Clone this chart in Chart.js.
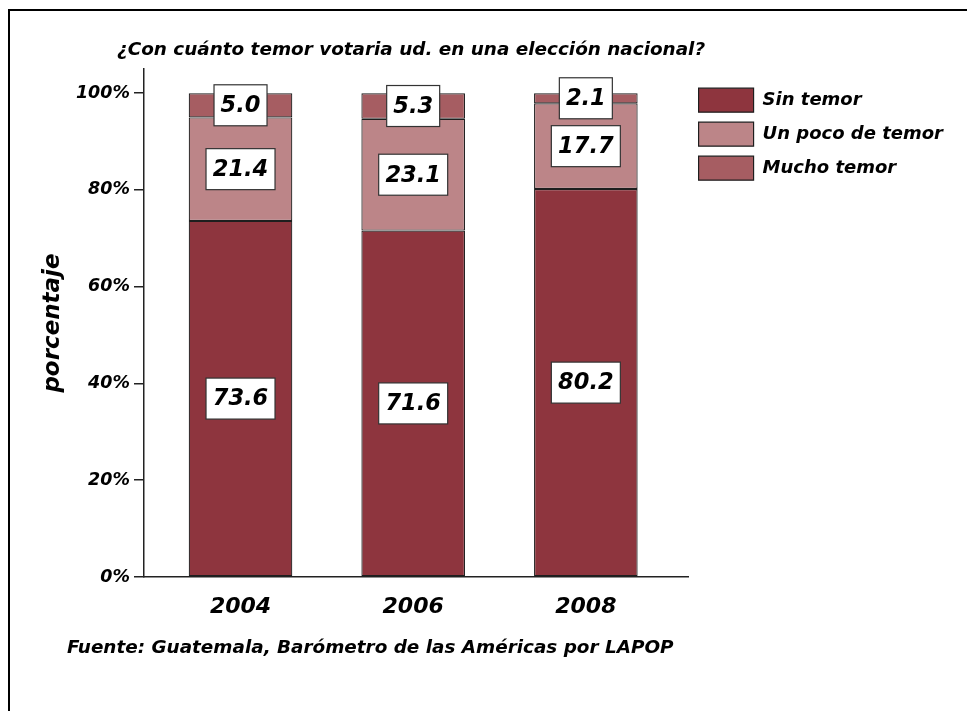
<!DOCTYPE html>
<html>
<head>
<meta charset="utf-8">
<script src="https://cdn.jsdelivr.net/npm/chart.js"></script>
<style>
  body { margin: 0; background: #fff; font-family: "DejaVu Sans", sans-serif; }
  #wrap { position: relative; width: 967px; height: 711px; overflow: hidden; }
  #frame { position: absolute; left: 8px; top: 9px; width: 1000px; height: 800px;
    border-left: 2px solid #000; border-top: 2px solid #000; }
  canvas { position: absolute; left: 0; top: 0; }
  .note { position: absolute; font-weight: bold; font-style: italic; color: #000; white-space: nowrap; }
  #title { left: 117px; top: 38px; font-size: 18.4px; }
  #source { left: 67px; top: 636px; font-size: 18.4px; }
</style>
</head>
<body>
<div id="wrap">
  <div id="frame"></div>
  <canvas id="chart" width="967" height="711"></canvas>
  <div class="note" id="title">¿Con cuánto temor votaria ud. en una elección nacional?</div>
  <div class="note" id="source">Fuente: Guatemala, Barómetro de las Américas por LAPOP</div>
</div>
<script>
const years = ['2004', '2006', '2008'];
const sinTemor = [73.6, 71.6, 80.2];
const unPoco = [21.4, 23.1, 17.7];
const mucho = [5.0, 5.3, 2.1];
const yTicks = [0, 20, 40, 60, 80, 100];

const FONT = '"DejaVu Sans", sans-serif';

const toPoints = (values) => values.map((v, i) => ({ x: i, y: v }));

// white boxes with the value, centred on each segment
const valueBoxes = {
  id: 'valueBoxes',
  afterDatasetsDraw(chart) {
    const ctx = chart.ctx;
    ctx.save();
    ctx.font = 'italic bold 22.5px ' + FONT;
    ctx.textAlign = 'center';
    ctx.textBaseline = 'middle';
    chart.data.datasets.forEach((ds, i) => {
      chart.getDatasetMeta(i).data.forEach((bar, j) => {
        const text = ds.data[j].y.toFixed(1);
        const w = Math.round(ctx.measureText(text).width + 13);
        const h = 41;
        const cx = bar.x;
        const cy = (bar.y + bar.base) / 2;
        ctx.fillStyle = '#fff';
        ctx.fillRect(cx - w / 2, cy - h / 2, w, h);
        ctx.lineWidth = 1.2;
        ctx.strokeStyle = '#333';
        ctx.strokeRect(cx - w / 2, cy - h / 2, w, h);
        ctx.fillStyle = '#000';
        ctx.fillText(text, cx, cy + 1);
      });
    });
    ctx.restore();
  }
};

const data = {
  datasets: [
    { label: 'Sin temor', data: toPoints(sinTemor), backgroundColor: '#8e353e' },
    { label: 'Un poco de temor', data: toPoints(unPoco), backgroundColor: '#bc8588' },
    { label: 'Mucho temor', data: toPoints(mucho), backgroundColor: '#a65d62' }
  ].map(d => Object.assign(d, {
    borderColor: '#1e1e1e',
    borderWidth: 1.2,
    borderSkipped: false,
    barPercentage: 0.6,
    categoryPercentage: 1
  }))
};

new Chart(document.getElementById('chart'), {
  type: 'bar',
  data,
  options: {
    responsive: false,
    animation: false,
    layout: { padding: { left: 20, top: 69, right: 14, bottom: 84 } },
    plugins: {
      tooltip: { enabled: false },
      legend: {
        position: 'right',
        align: 'start',
        maxWidth: 320,
        title: { display: true, text: '', font: { size: 1 }, padding: { top: 8, bottom: 0 } },
        labels: {
          boxWidth: 55,
          boxHeight: 24,
          padding: 10,
          color: '#000',
          font: { family: FONT, size: 18, weight: 'bold', style: 'italic' }
        }
      }
    },
    scales: {
      x: {
        type: 'linear',
        stacked: true,
        offset: false,
        min: -0.559,
        max: 2.595,
        afterBuildTicks: (axis) => { axis.ticks = years.map((_, i) => ({ value: i })); },
        afterFit: (axis) => { axis.height = 50; },
        grid: { display: false, offset: false },
        border: { display: true, color: '#222', width: 1.5 },
        ticks: {
          padding: 9,
          color: '#000',
          callback: (v) => years[v],
          font: { family: FONT, size: 22, weight: 'bold', style: 'italic' }
        }
      },
      y: {
        stacked: true,
        min: 0,
        max: 105,
        afterBuildTicks: (axis) => { axis.ticks = yTicks.map(v => ({ value: v })); },
        afterFit: (axis) => { axis.width = 124; },
        grid: { drawOnChartArea: false, drawTicks: true, tickLength: 10, color: '#222', lineWidth: 1.5 },
        border: { display: true, color: '#222', width: 1.5 },
        title: {
          display: true,
          text: 'porcentaje',
          color: '#000',
          padding: { top: 19, bottom: 0 },
          font: { family: FONT, size: 23, weight: 'bold', style: 'italic' }
        },
        ticks: {
          padding: 4,
          color: '#000',
          callback: (v) => v + '%',
          font: { family: FONT, size: 17.5, weight: 'bold', style: 'italic' }
        }
      }
    }
  },
  plugins: [valueBoxes]
});
</script>
</body>
</html>
